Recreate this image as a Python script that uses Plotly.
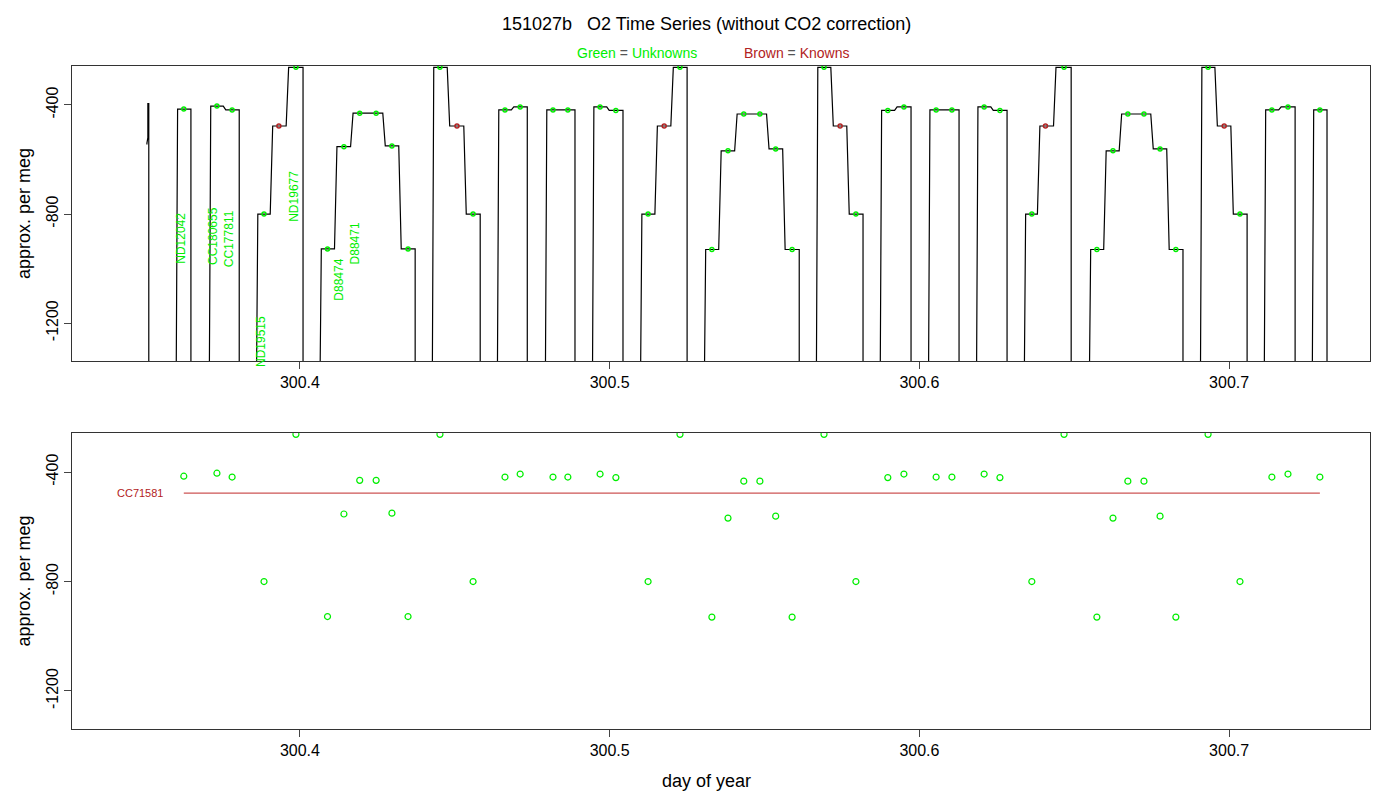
import plotly.graph_objects as go

# unknown samples: day of year and approx. per meg
unk_t = [300.3625, 300.3732, 300.3781, 300.3884, 300.3987, 300.4089, 300.4142, 300.4193,
         300.4246, 300.4297, 300.4349, 300.4452, 300.4559, 300.4662, 300.4711, 300.4817,
         300.4865, 300.4969, 300.5020, 300.5124, 300.5227, 300.5330, 300.5382, 300.5433,
         300.5485, 300.5536, 300.5589, 300.5692, 300.5795, 300.5898, 300.5950, 300.6054,
         300.6105, 300.6209, 300.6260, 300.6363, 300.6467, 300.6573, 300.6625, 300.6673,
         300.6725, 300.6777, 300.6828, 300.6932, 300.7035, 300.7138, 300.7190, 300.7293]
unk_v = [-415, -404, -418, -800, -262, -928, -553, -430, -430, -550, -928, -262, -800,
         -418, -407, -418, -418, -407, -420, -800, -262, -930, -568, -433, -433, -561,
         -930, -262, -800, -420, -407, -418, -418, -407, -420, -800, -262, -930, -568,
         -433, -433, -561, -930, -262, -800, -418, -407, -418]

# knowns (CC71581)
kn_t = [300.3932, 300.4507, 300.5176, 300.5744, 300.6407, 300.6984]
kn_v = [-477, -477, -477, -477, -477, -477]
kn_line_t = [300.3625, 300.7293]
kn_line_v = [-477, -477]

# runs of consecutive tank measurements
run_sizes = [1, 2, 3, 6, 3, 2, 2, 2, 3, 6, 3, 2, 2, 2, 3, 6, 3, 2, 1]

labels = [("ND12042", 300.3615, -888), ("CC180655", 300.3719, -881),
          ("CC177811", 300.3771, -892), ("ND19515", 300.3874, -1266),
          ("ND19677", 300.3980, -734), ("D88474", 300.4125, -1042),
          ("D88471", 300.4176, -906)]

GREEN = "#00ee00"
BROWN = "#b22222"
BOTTOM = -1500

samples = sorted(list(zip(unk_t, unk_v)) + list(zip(kn_t, kn_v)))

# step trace
xs, ys = [300.3506, 300.3506, 300.3509, 300.3509], [-545, -540, -520, -395]
xs += [300.3512, 300.3512, None]
ys += [-395, BOTTOM, None]
i = 0
for n in run_sizes:
    run = samples[i:i + n]
    i += n
    start = run[0][0] - 0.0025
    xs += [start, start + 0.0005]
    ys += [BOTTOM, run[0][1]]
    for k, (t, v) in enumerate(run):
        end = (run[k + 1][0] + t) / 2 if k + 1 < n else t + 0.0025
        xs += [end - 0.0004]
        ys += [v]
        if k + 1 < n:
            xs += [end + 0.0004]
            ys += [run[k + 1][1]]
    xs += [end - 0.0002, end - 0.0002, None]
    ys += [v, BOTTOM, None]

fig = go.Figure()
fig.add_trace(go.Scatter(x=xs, y=ys, mode="lines", line=dict(color="black", width=1.2),
                         xaxis="x", yaxis="y", showlegend=False))
fig.add_trace(go.Scatter(x=unk_t, y=unk_v, mode="markers", xaxis="x", yaxis="y",
                         marker=dict(symbol="circle-open", color=GREEN, size=4, line=dict(width=1.5)),
                         showlegend=False))
fig.add_trace(go.Scatter(x=kn_t, y=kn_v, mode="markers", xaxis="x", yaxis="y",
                         marker=dict(symbol="circle-open", color=BROWN, size=4, line=dict(width=1.5)),
                         showlegend=False))

fig.add_trace(go.Scatter(x=unk_t, y=unk_v, mode="markers", xaxis="x2", yaxis="y2",
                         marker=dict(symbol="circle-open", color=GREEN, size=6, line=dict(width=1.2)),
                         showlegend=False))
fig.add_trace(go.Scatter(x=kn_line_t, y=kn_line_v, mode="lines", xaxis="x2", yaxis="y2",
                         line=dict(color="#cd5555", width=1.2), showlegend=False))

ann = []
for txt, x, y in labels:
    ann.append(dict(x=x, y=y, xref="x", yref="y", text=txt, textangle=-90, showarrow=False,
                    font=dict(color=GREEN, size=12)))
ann.append(dict(x=300.3484, y=-477, xref="x2", yref="y2", text="CC71581", showarrow=False,
                font=dict(color=BROWN, size=11)))
ann.append(dict(x=0.449, y=0.944, xref="paper", yref="paper", showarrow=False, yanchor="middle",
                text="<span style='color:#00ee00'>Green</span> <span style='color:#555'>=</span> <span style='color:#00ee00'>Unknowns</span>",
                font=dict(size=14)))
ann.append(dict(x=0.563, y=0.944, xref="paper", yref="paper", showarrow=False, yanchor="middle",
                text="<span style='color:#b22222'>Brown</span> <span style='color:#555'>=</span> <span style='color:#b22222'>Knowns</span>",
                font=dict(size=14)))
ann.append(dict(x=0.499, y=0.034, xref="paper", yref="paper", showarrow=False, yanchor="middle",
                text="day of year", font=dict(size=18)))

xax = dict(range=[300.3264, 300.7455], tickvals=[300.4, 300.5, 300.6, 300.7],
           ticktext=["300.4", "300.5", "300.6", "300.7"], showgrid=False, zeroline=False,
           showline=True, mirror=True, linecolor="#333", ticks="outside", ticklen=7,
           tickfont=dict(size=16), domain=[0.0457, 0.9729], automargin=False)
yax = dict(range=[-1339, -257], tickvals=[-400, -800, -1200],
           ticktext=["-400", "-800", "-1200"], tickangle=-90, showgrid=False,
           zeroline=False, showline=True, mirror=True, linecolor="#333", ticks="outside",
           ticklen=7, tickfont=dict(size=16), automargin=False,
           title=dict(text="approx. per meg", font=dict(size=18), standoff=8))

fig.update_layout(
    width=1400, height=800, plot_bgcolor="white", paper_bgcolor="white",
    margin=dict(l=0, r=0, t=0, b=0),
    font=dict(family="Liberation Sans, Arial, sans-serif", color="black"),
    title=dict(text="151027b   O2 Time Series (without CO2 correction)", x=0.499, y=0.981,
               xanchor="center", yanchor="middle", font=dict(size=18), automargin=False),
    xaxis=dict(xax, anchor="y"),
    yaxis=dict(yax, domain=[0.55875, 0.9275], anchor="x"),
    xaxis2=dict(xax, anchor="y2"),
    yaxis2=dict(yax, domain=[0.09875, 0.46875], anchor="x2"),
    annotations=ann,
)

fig.write_html("out.html")
